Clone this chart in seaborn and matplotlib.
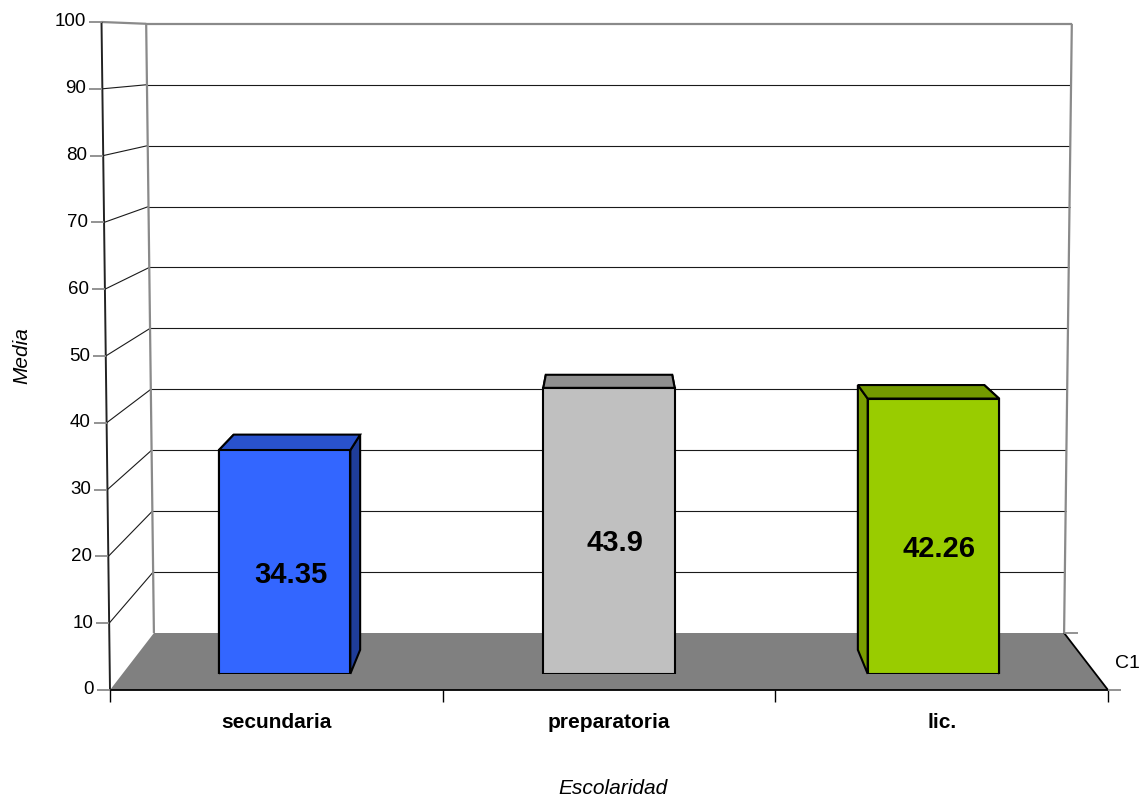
import matplotlib
matplotlib.use("Agg")
import matplotlib.pyplot as plt
import pandas as pd
import seaborn as sns
from matplotlib.patches import Polygon

# ---- data -------------------------------------------------------------
categories = ["secundaria", "preparatoria", "lic."]
means = [34.35, 43.9, 42.26]
front_colors = ["#3366FF", "#C0C0C0", "#99CC00"]
top_colors = ["#2952CC", "#8F8F8F", "#739900"]
side_colors = ["#1F3D99", "#808080", "#7A9E00"]
y_ticks = list(range(0, 101, 10))
y_label = "Media"
x_label = "Escolaridad"
series_label = "C1"

# ---- figure / style ----------------------------------------------------
W, H = 1139, 800
sns.set_theme(style="white")
plt.rcParams["font.family"] = ["Liberation Sans", "DejaVu Sans"]
plt.rcParams["text.color"] = "black"

# perspective box (pixel space): vanishing centre, horizon, front plane size
CX, YH = 609.0, 42.3
HALF, BASE, SCALE, KV = 499.0, 690.0, 6.68, 0.00017
F_BACK = 0.912                      # back wall depth factor
F_BAR_FRONT, F_BAR_BACK = 0.975, 0.938
BAR_W = 0.405                       # bar width in category units
VMAX = 100

GRID = "#1a1a1a"
EDGE = "#8a8a8a"


def project(u, v, f, k=KV):
    """u: horizontal position in floor half-widths, v: value, f: depth factor."""
    x = CX + u * HALF * f * (1 + k * v)
    y = YH + (BASE - YH - v * SCALE) * f
    return x, y


def cat_u(i):
    n = len(categories)
    return (i - (n - 1) / 2) * 2 / n


fig = plt.figure(figsize=(W / 100, H / 100), dpi=100)
frame = fig.add_axes([0, 0, 1, 1])
frame.set_xlim(0, W)
frame.set_ylim(H, 0)
frame.axis("off")


def seg(p, q, **kw):
    frame.plot([p[0], q[0]], [p[1], q[1]], solid_capstyle="butt", **kw)


# floor
floor = [project(-1, 0, 1), project(1, 0, 1), project(1, 0, F_BACK), project(-1, 0, F_BACK)]
frame.add_patch(Polygon(floor, closed=True, facecolor="#808080", edgecolor="none", zorder=1))
seg(floor[0], floor[1], color="black", lw=1.3, zorder=2)
seg(floor[1], floor[2], color="black", lw=1.3, zorder=2)

# gridlines on back wall and left wall
for v in y_ticks[1:-1]:
    seg(project(-1, v, F_BACK), project(1, v, F_BACK), color=GRID, lw=0.8, zorder=1.5)
    seg(project(-1, v, 1), project(-1, v, F_BACK), color=GRID, lw=0.8, zorder=1.5)

# wall outlines
seg(project(-1, VMAX, 1), project(-1, VMAX, F_BACK), color=EDGE, lw=1.6, zorder=1.6)
seg(project(-1, VMAX, F_BACK), project(1, VMAX, F_BACK), color=EDGE, lw=1.6, zorder=1.6)
seg(project(1, VMAX, F_BACK), project(1, 0, F_BACK), color=EDGE, lw=1.6, zorder=1.6)
seg(project(-1, VMAX, F_BACK), project(-1, 0, F_BACK), color=EDGE, lw=1.6, zorder=1.6)

# value axis (front left edge) with ticks and labels
seg(project(-1, 0, 1), project(-1, VMAX, 1), color="#222222", lw=1.4, zorder=2)
for v in y_ticks:
    x, y = project(-1, v, 1)
    seg((x - 13, y), (x, y), color=EDGE, lw=1.3, zorder=2)
    frame.text(x - 16, y, str(v), ha="right", va="center", fontsize=13.5, color="black")

# category axis ticks along the front floor edge
for u in [-1, -1 / 3, 1 / 3, 1]:
    x, y = project(u, 0, 1)
    seg((x, y), (x, y + 12), color="black", lw=1.0, zorder=2)

# depth axis ticks on the right
fx, fy = project(1, 0, 1)
bx, by = project(1, 0, F_BACK)
seg((fx, fy), (fx + 13, fy), color=EDGE, lw=1.3, zorder=2)
seg((bx, by), (bx + 14, by), color=EDGE, lw=1.3, zorder=2)
frame.text(fx + 7, (fy + by) / 2 + 2, series_label, ha="left", va="center", fontsize=14)

# category labels
for i, c in enumerate(categories):
    x, _ = project(cat_u(i), 0, 1)
    frame.text(x, BASE + 33, c, ha="center", va="center", fontsize=15, fontweight="bold")

# axis titles
frame.text(22, (project(-1, 0, 1)[1] + project(-1, VMAX, 1)[1]) / 2, y_label,
           rotation=90, ha="center", va="center", fontsize=15, style="italic")
frame.text(CX + 4, 788, x_label, ha="center", va="center", fontsize=15, style="italic")

# bar side and top faces (drawn beneath the front faces)
hw = BAR_W * (2 / len(categories)) / 2
for i, v in enumerate(means):
    u = cat_u(i)
    fl0 = project(u - hw, 0, F_BAR_FRONT, 0); fr0 = project(u + hw, 0, F_BAR_FRONT, 0)
    flv = project(u - hw, v, F_BAR_FRONT, 0); frv = project(u + hw, v, F_BAR_FRONT, 0)
    bl0 = project(u - hw, 0, F_BAR_BACK, 0); br0 = project(u + hw, 0, F_BAR_BACK, 0)
    blv = project(u - hw, v, F_BAR_BACK, 0); brv = project(u + hw, v, F_BAR_BACK, 0)
    for side in ([fr0, frv, brv, br0], [fl0, flv, blv, bl0]):
        frame.add_patch(Polygon(side, closed=True, facecolor=side_colors[i], edgecolor="black",
                                lw=1.5, joinstyle="miter", zorder=3))
    frame.add_patch(Polygon([flv, frv, brv, blv], closed=True, facecolor=top_colors[i],
                            edgecolor="black", lw=1.5, joinstyle="miter", zorder=3.5))

# front faces of the bars: seaborn bars in an axes aligned with the bar front plane
x0, y0 = CX - HALF * F_BAR_FRONT, project(0, 0, F_BAR_FRONT, 0)[1]
x1, y1 = CX + HALF * F_BAR_FRONT, project(0, VMAX, F_BAR_FRONT, 0)[1]
bar_ax = fig.add_axes([x0 / W, 1 - y0 / H, (x1 - x0) / W, (y0 - y1) / H])
bar_ax.set_zorder(2)
bar_ax.patch.set_alpha(0)
df = pd.DataFrame({"cat": categories, "mean": means})
sns.barplot(data=df, x="cat", y="mean", hue="cat", order=categories, hue_order=categories,
            palette=front_colors, width=BAR_W, saturation=1, edgecolor="black",
            linewidth=1.5, legend=False, ax=bar_ax)
for p in bar_ax.patches:
    p.set_joinstyle("miter")
bar_ax.set_xlim(-0.5, len(categories) - 0.5)
bar_ax.set_ylim(0, VMAX)
bar_ax.axis("off")

# value labels on the bars
for i, v in enumerate(means):
    x = project(cat_u(i), 0, F_BAR_FRONT, 0)[0] + 6
    y = project(cat_u(i), v / 2, 1)[1]
    bar_ax.text(x, y, f"{v:g}", transform=frame.transData, ha="center", va="center",
                fontsize=21, fontweight="bold", color="black", clip_on=False)

fig.savefig("out.png", dpi=100)
